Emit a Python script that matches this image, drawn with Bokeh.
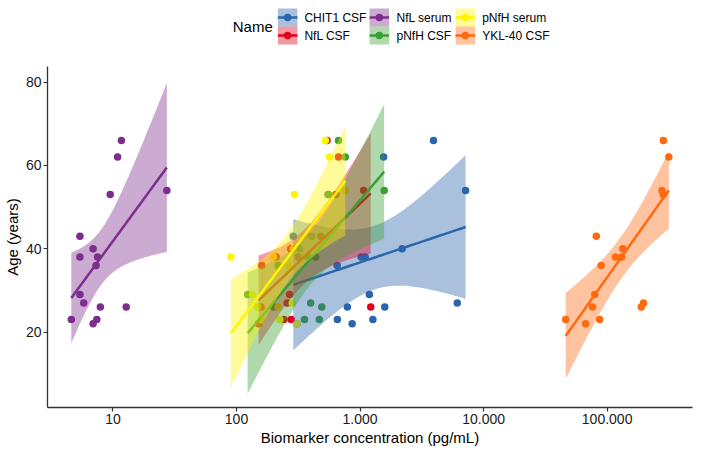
import math
import numpy as np
from bokeh.plotting import figure
from bokeh.layouts import column
from bokeh.models import Range1d, FixedTicker
from bokeh.core.properties import value
from bokeh.embed import file_html
from bokeh.resources import INLINE

# ---------------- data ----------------
names = ["CHIT1 CSF", "NfL CSF", "NfL serum", "pNfH CSF", "pNfH serum", "YKL-40 CSF"]
colors = ["#2B65AC", "#E3001B", "#7D2E8D", "#3A9F35", "#FFF500", "#FF6A10"]

chit1_csf_age = [43, 36, 23, 26, 22, 38, 38, 29, 23, 62, 26, 40, 66, 27, 54, 53]
chit1_csf_conc = [288, 653, 655, 790, 863, 1020, 1100, 1190, 1270, 1550, 1585, 2190, 3930, 6120, 7150, 550]

nfl_csf_age = [22, 23, 23, 26, 26, 27, 29, 36, 38, 38, 40, 43, 53, 54, 62, 66]
nfl_csf_conc = [151, 242, 277, 1220, 158, 257, 269, 160, 209, 316, 275, 479, 638, 1070, 670, 540]

nfl_serum_age = [22, 23, 23, 26, 26, 27, 29, 36, 38, 38, 40, 43, 53, 54, 62, 66]
nfl_serum_conc = [6.9, 4.6, 7.4, 7.9, 12.8, 5.8, 5.4, 7.3, 5.4, 7.5, 6.9, 5.4, 9.5, 27.3, 10.9, 11.7]

pnfh_csf_age = [22, 23, 23, 26, 26, 27, 29, 36, 38, 38, 40, 43, 53, 54, 62, 66]
pnfh_csf_conc = [309, 355, 468, 490, 200, 398, 123, 217, 380, 437, 324, 407, 556, 1567, 759, 670]

pnfh_serum_age = [22, 23, 23, 26, 26, 27, 29, 36, 38, 38, 40, 43, 53, 54, 62, 66]
pnfh_serum_conc = [309, 158, 224, 217, 148, 282, 135, 263, 90, 200, 288, 355, 295, 759, 566, 525]

ykl40_csf_age = [66, 62, 54, 53, 43, 40, 38, 38, 36, 29, 26, 26, 27, 23, 22, 23]
ykl40_csf_conc = [285000, 316000, 278000, 285000, 81700, 134000, 117000, 131000, 89500,
                  79400, 76200, 189000, 197000, 46200, 67000, 87000]

x_ticks = [10, 100, 1000, 10000, 100000]
x_tick_labels = ["10", "100", "1.000", "10.000", "100.000"]
y_ticks = [20, 40, 60, 80]

series = [
    (chit1_csf_conc, chit1_csf_age),
    (nfl_csf_conc, nfl_csf_age),
    (nfl_serum_conc, nfl_serum_age),
    (pnfh_csf_conc, pnfh_csf_age),
    (pnfh_serum_conc, pnfh_serum_age),
    (ykl40_csf_conc, ykl40_csf_age),
]

FONT = value("Liberation Sans")


def t_quantile(p, df):
    c = math.exp(math.lgamma((df + 1) / 2) - math.lgamma(df / 2)) / math.sqrt(df * math.pi)

    def cdf(t):
        xs = np.linspace(0, t, 4001)
        pdf = c * (1 + xs ** 2 / df) ** (-(df + 1) / 2)
        return 0.5 + np.trapezoid(pdf, xs)

    lo, hi = 0.0, 30.0
    for _ in range(60):
        mid = (lo + hi) / 2
        if cdf(mid) < p:
            lo = mid
        else:
            hi = mid
    return (lo + hi) / 2


def lm_band(conc, age, n=80):
    x = np.log10(np.asarray(conc, float))
    y = np.asarray(age, float)
    k = len(x)
    xm = x.mean()
    sxx = ((x - xm) ** 2).sum()
    b = ((x - xm) * (y - y.mean())).sum() / sxx
    a = y.mean() - b * xm
    s = math.sqrt(((y - (a + b * x)) ** 2).sum() / (k - 2))
    xg = np.linspace(x.min(), x.max(), n)
    yg = a + b * xg
    se = s * np.sqrt(1 / k + (xg - xm) ** 2 / sxx)
    t = t_quantile(0.975, k - 2)
    return 10 ** xg, yg, yg - t * se, yg + t * se


# ---------------- main plot ----------------
p = figure(width=693, height=398, x_axis_type="log",
           x_range=Range1d(10 ** 0.470, 10 ** 5.691), y_range=Range1d(1.88, 83.76),
           output_backend="svg", toolbar_location=None,
           min_border_left=42, min_border_right=1, min_border_top=16, min_border_bottom=40)
p.grid.visible = False
p.outline_line_color = None
p.background_fill_color = "white"

for (conc, age), col in zip(series, colors):
    p.scatter(conc, age, size=7.5, fill_color=col, line_color=None)

for (conc, age), col in zip(series, colors):
    xg, yg, lo, hi = lm_band(conc, age)
    p.varea(x=xg, y1=lo, y2=hi, fill_color=col, fill_alpha=0.4)
    p.line(xg, yg, line_color=col, line_width=2.5)

p.xaxis.ticker = FixedTicker(ticks=x_ticks)
p.xaxis.major_label_overrides = {t: l for t, l in zip(x_ticks, x_tick_labels)}
p.yaxis.ticker = FixedTicker(ticks=y_ticks)
for ax in (p.xaxis, p.yaxis):
    ax.axis_line_color = "#333333"
    ax.axis_line_width = 1.3
    ax.major_tick_line_color = "#333333"
    ax.major_tick_line_width = 1.2
    ax.major_tick_in = 0
    ax.major_tick_out = 4
    ax.minor_tick_line_color = None
    ax.major_label_text_font = "Liberation Sans"
    ax.major_label_text_font_size = "14px"
    ax.major_label_text_color = "#1a1a1a"
    ax.major_label_standoff = 2
    ax.axis_label_text_font = "Liberation Sans"
    ax.axis_label_text_font_size = "15px"
    ax.axis_label_text_font_style = "normal"
    ax.axis_label_text_color = "black"
    ax.axis_label_standoff = 2
p.xaxis.axis_label = "Biomarker concentration (pg/mL)"
p.yaxis.axis_label = "Age (years)"

# ---------------- legend strip ----------------
lg = figure(width=693, height=50, x_range=Range1d(0, 693), y_range=Range1d(42, -8),
            output_backend="svg", toolbar_location=None, min_border=0)
lg.axis.visible = False
lg.grid.visible = False
lg.outline_line_color = None

key_cx = [258, 356.5, 449]
label_x = [276, 375, 467]
row_cy = [9, 27]
key_w, key_h = 21, 18
for i, (nm, col) in enumerate(zip(names, colors)):
    c, r = i // 2, i % 2
    cx, cy = key_cx[c], row_cy[r]
    lg.rect(x=[cx], y=[cy], width=key_w, height=key_h, fill_color=col, fill_alpha=0.4, line_color=None)
    lg.line([cx - key_w / 2, cx + key_w / 2], [cy, cy], line_color=col, line_width=2.5)
    lg.scatter([cx], [cy], size=7.5, fill_color=col, line_color=None)
    lg.text(x=[label_x[c]], y=[cy], text=[nm], text_font=FONT, text_font_size="12px",
            text_baseline="middle", text_align="left", text_color="black")
lg.text(x=[199], y=[18], text=["Name"], text_font=FONT, text_font_size="15px",
        text_baseline="middle", text_align="left", text_color="black")

layout = column(lg, p)
open("out.html", "w").write(file_html(layout, INLINE))
